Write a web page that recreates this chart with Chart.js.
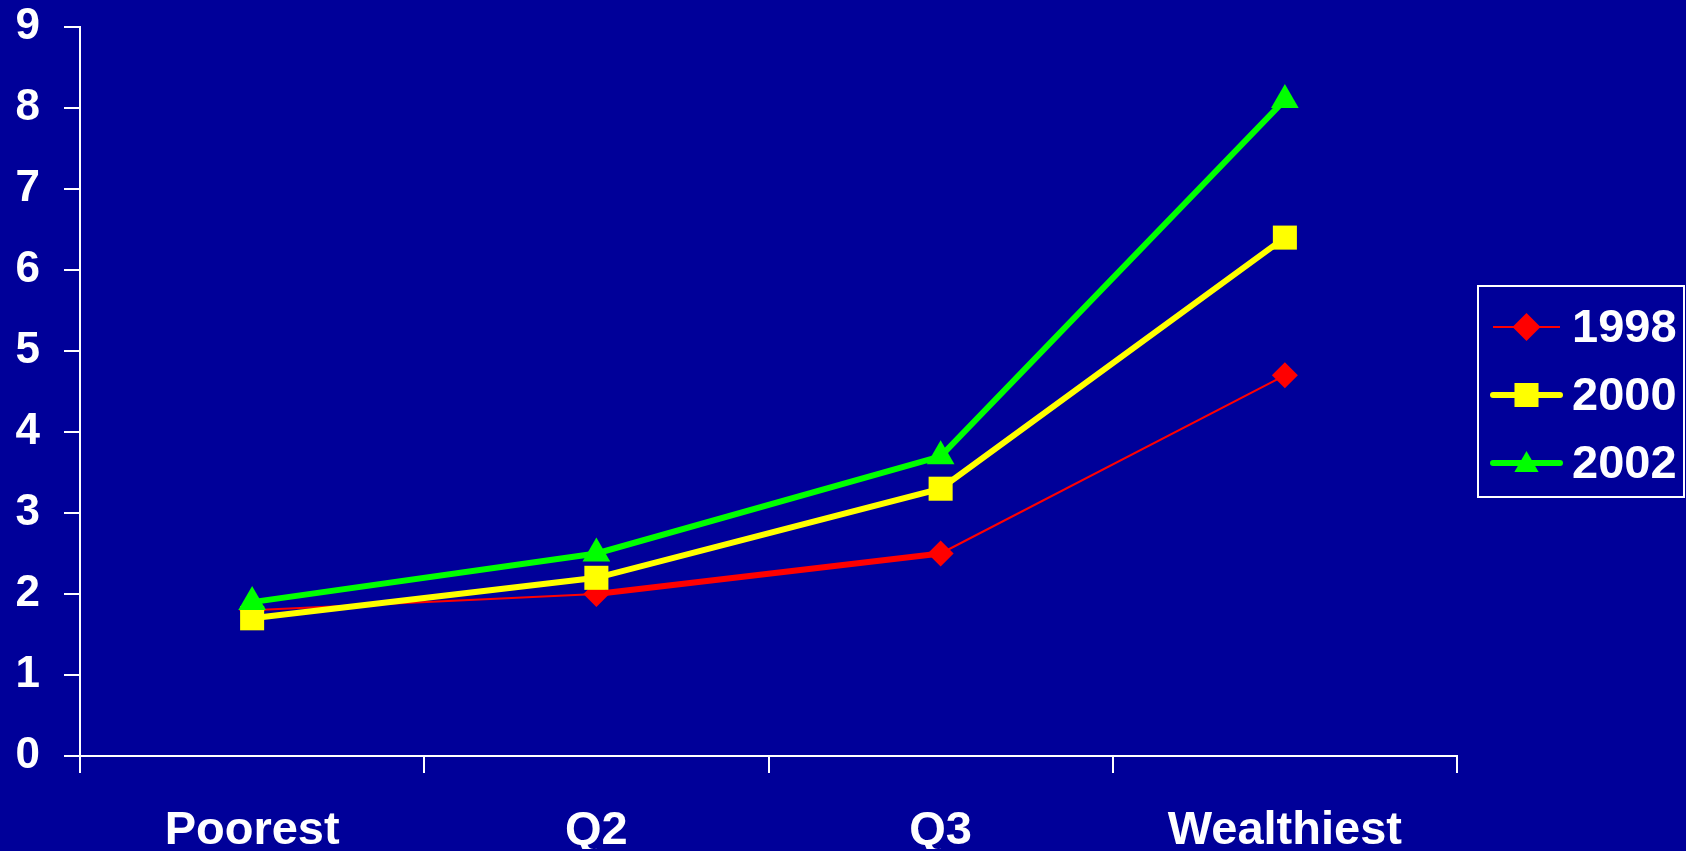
<!DOCTYPE html>
<html>
<head>
<meta charset="utf-8">
<script src="https://cdn.jsdelivr.net/npm/chart.js@4/dist/chart.umd.min.js"></script>
<style>
  html, body { margin: 0; padding: 0; background: #000099; }
  #wrap { width: 1686px; height: 851px; }
  canvas { display: block; }
</style>
</head>
<body>
<div id="wrap"><canvas id="c" width="1686" height="851"></canvas></div>
<script>
// Wealth quintiles along the x axis
const categories = ['Poorest', 'Q2', 'Q3', 'Wealthiest'];
// One series per survey year
const years = ['1998', '2000', '2002'];
const values1998 = [1.8, 2.0, 2.5, 4.7];
const values2000 = [1.7, 2.2, 3.3, 6.4];
const values2002 = [1.9, 2.5, 3.7, 8.1];
// Value axis ticks
const yTicks = [0, 1, 2, 3, 4, 5, 6, 7, 8, 9];

const FONT = '"Liberation Sans", Arial, Helvetica, sans-serif';
const WHITE = '#ffffff';

// 1998 line changes weight between segments
const redSegmentWidths = [2, 6, 2];

const series = [
  { label: years[0], data: values1998, color: '#ff0000', style: 'rectRot', radius: 13, lineWidth: 2,
    segment: { borderWidth: ctx => redSegmentWidths[ctx.p0DataIndex] } },
  { label: years[1], data: values2000, color: '#ffff00', style: 'rect', radius: 17, lineWidth: 6 },
  { label: years[2], data: values2002, color: '#00ff00', style: 'triangle', radius: 16, lineWidth: 6 }
];

// Solid slide-blue backdrop
const backdrop = {
  id: 'backdrop',
  beforeDraw(chart) {
    const { ctx, width, height } = chart;
    ctx.save();
    ctx.fillStyle = '#000099';
    ctx.fillRect(0, 0, width, height);
    ctx.restore();
  }
};

function drawMarker(ctx, style, x, y, r, color) {
  ctx.fillStyle = color;
  ctx.beginPath();
  if (style === 'rectRot') {
    ctx.moveTo(x, y - r); ctx.lineTo(x + r, y); ctx.lineTo(x, y + r); ctx.lineTo(x - r, y);
  } else if (style === 'rect') {
    const s = r * Math.SQRT1_2;
    ctx.rect(x - s, y - s, 2 * s, 2 * s);
  } else {
    ctx.moveTo(x, y - r);
    ctx.lineTo(x + r * Math.sin(Math.PI * 2 / 3), y + r / 2);
    ctx.lineTo(x - r * Math.sin(Math.PI * 2 / 3), y + r / 2);
  }
  ctx.closePath();
  ctx.fill();
}

// Boxed legend with a line sample through each marker
const boxLegend = {
  id: 'boxLegend',
  afterDraw(chart, args, opts) {
    const { ctx } = chart;
    ctx.save();
    ctx.strokeStyle = WHITE;
    ctx.lineWidth = 2;
    ctx.strokeRect(opts.x, opts.y, opts.w, opts.h);
    chart.data.datasets.forEach((ds, i) => {
      const s = series[i];
      const cy = opts.y + opts.firstRow + i * opts.rowGap;
      const x0 = opts.x + 15, x1 = opts.x + 82, cx = (x0 + x1) / 2;
      ctx.strokeStyle = s.color;
      ctx.lineWidth = s.lineWidth;
      ctx.lineCap = s.lineWidth > 3 ? 'round' : 'butt';
      ctx.beginPath(); ctx.moveTo(x0, cy); ctx.lineTo(x1, cy); ctx.stroke();
      drawMarker(ctx, s.style, cx, s.style === 'triangle' ? cy + 2 : cy, s.style === 'rect' ? 17 : 14, s.color);
      ctx.fillStyle = WHITE;
      ctx.font = 'bold 47px ' + FONT;
      ctx.textBaseline = 'middle';
      ctx.textAlign = 'left';
      ctx.fillText(ds.label, opts.x + 94, cy + 2);
    });
    ctx.restore();
  }
};

new Chart(document.getElementById('c'), {
  type: 'line',
  data: {
    labels: categories,
    // later years are painted over earlier ones
    datasets: series.map((s, i) => ({
      label: s.label,
      data: s.data,
      order: series.length - i,
      borderColor: s.color,
      backgroundColor: s.color,
      borderWidth: s.lineWidth,
      pointStyle: s.style,
      pointRadius: s.radius,
      pointHoverRadius: s.radius,
      pointBorderWidth: 0,
      pointBackgroundColor: s.color,
      tension: 0,
      fill: false,
      segment: s.segment || {}
    }))
  },
  options: {
    responsive: false,
    devicePixelRatio: 1,
    animation: false,
    events: [],
    layout: { padding: { left: 16, top: 27, right: 229, bottom: 2 } },
    plugins: {
      legend: { display: false },
      tooltip: { enabled: false },
      boxLegend: { x: 1478, y: 286, w: 206, h: 211, firstRow: 41, rowGap: 68 }
    },
    scales: {
      x: {
        offset: true,
        afterFit: axis => { axis.height = 93; axis.paddingLeft = 0; axis.paddingRight = 0; },
        grid: { offset: true, drawOnChartArea: false, color: WHITE, lineWidth: 2, tickLength: 17 },
        border: { color: WHITE, width: 2 },
        ticks: { color: WHITE, font: { family: FONT, size: 47, weight: 'bold' }, padding: 30,
                 maxRotation: 0, autoSkip: false }
      },
      y: {
        min: yTicks[0],
        max: yTicks[yTicks.length - 1],
        afterBuildTicks: axis => { axis.ticks = yTicks.map(v => ({ value: v })); },
        afterFit: axis => { axis.width = 64; axis.paddingTop = 0; axis.paddingBottom = 0; },
        grid: { drawOnChartArea: false, color: WHITE, lineWidth: 2, tickLength: 16 },
        border: { color: WHITE, width: 2 },
        ticks: { color: WHITE, font: { family: FONT, size: 44, weight: 'bold' }, padding: 24 }
      }
    }
  },
  plugins: [backdrop, boxLegend]
});
</script>
</body>
</html>
